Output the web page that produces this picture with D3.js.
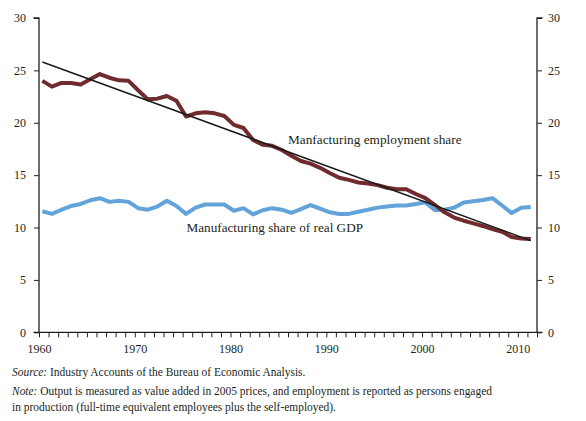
<!DOCTYPE html>
<html>
<head>
<meta charset="utf-8">
<script src="https://cdn.jsdelivr.net/npm/d3@7/dist/d3.min.js"></script>
<style>
  html, body { margin: 0; padding: 0; background: #fff; }
  svg { display: block; }
  text { font-family: "Liberation Serif", "Times New Roman", serif; fill: #231f20; }
</style>
</head>
<body>
<svg id="chart" width="586" height="421"></svg>
<script>
// ---- data ----
const years = [1960,1961,1962,1963,1964,1965,1966,1967,1968,1969,
               1970,1971,1972,1973,1974,1975,1976,1977,1978,1979,
               1980,1981,1982,1983,1984,1985,1986,1987,1988,1989,
               1990,1991,1992,1993,1994,1995,1996,1997,1998,1999,
               2000,2001,2002,2003,2004,2005,2006,2007,2008,2009,
               2010,2011];
const employmentShare = [24.0,23.45,23.8,23.8,23.65,24.15,24.65,24.3,24.05,24.0,
                         23.1,22.25,22.3,22.55,22.1,20.6,20.9,21.0,20.9,20.65,
                         19.8,19.5,18.35,17.9,17.8,17.4,16.85,16.35,16.1,15.7,
                         15.2,14.75,14.55,14.3,14.2,14.05,13.8,13.65,13.65,13.2,
                         12.8,12.15,11.45,10.95,10.65,10.4,10.15,9.85,9.6,9.1,
                         8.95,8.9];
const gdpShare = [11.55,11.3,11.7,12.05,12.25,12.6,12.8,12.45,12.55,12.45,
                  11.85,11.7,12.0,12.55,12.05,11.3,11.9,12.2,12.2,12.2,
                  11.6,11.85,11.25,11.65,11.85,11.7,11.4,11.75,12.15,11.8,
                  11.45,11.3,11.3,11.5,11.7,11.9,12.0,12.1,12.1,12.25,
                  12.4,11.65,11.7,11.9,12.4,12.5,12.62,12.8,12.1,11.38,
                  11.88,11.95];
const trendYears = [1960, 2011];
const trendValues = [25.8, 8.75];
const xTicks = [1960,1970,1980,1990,2000,2010];
const yTicks = [0,5,10,15,20,25,30];
const labelEmployment = "Manfacturing employment share";
const labelGdp = "Manufacturing share of real GDP";

// ---- layout ----
const svg = d3.select("#chart");
const mLeft = 39, mRight = 537, mTop = 18, mBottom = 332.3;
const yearOffset = 0.35;

const x = d3.scaleLinear().domain([1960, 2012]).range([mLeft, mRight]);
const y = d3.scaleLinear().domain([0, 30]).range([mBottom, mTop]);

const axisColor = "#231f20";

// Axes
const gL = svg.append("g").attr("transform", `translate(${mLeft},0)`)
  .call(d3.axisLeft(y).tickValues(yTicks).tickSize(5).tickPadding(8).tickFormat(d3.format("d")));
const gR = svg.append("g").attr("transform", `translate(${mRight},0)`)
  .call(d3.axisRight(y).tickValues(yTicks).tickSize(5).tickPadding(6).tickFormat(d3.format("d")));
const minorYears = d3.range(1960, 2013);
const gB = svg.append("g").attr("transform", `translate(0,${mBottom})`)
  .call(d3.axisBottom(x).tickValues(minorYears).tickSize(5).tickFormat(""));
const gBL = svg.append("g").attr("transform", `translate(0,${mBottom})`)
  .call(d3.axisBottom(x).tickValues(xTicks).tickSize(0).tickPadding(12).tickFormat(d3.format("d")));
gBL.select(".domain").remove();

[gL, gR, gB, gBL].forEach(g => {
  g.attr("font-family", null);
  g.selectAll(".domain").attr("stroke", axisColor).attr("stroke-width", 1.3);
  g.selectAll(".tick line").attr("stroke", axisColor).attr("stroke-width", 1);
  g.selectAll("text").style("font-family", '"Liberation Serif", serif')
    .style("font-size", "12px").attr("fill", "#231f20");
});
gL.select(".domain").attr("d", `M-5.5,${mTop}H0V${mBottom}`);
gR.select(".domain").attr("d", `M5.5,${mTop}H0V${mBottom}`);
gB.select(".domain").attr("d", `M${mLeft-5.5},0H${mRight+5.5}`);

// Lines
const line = d3.line()
  .x(d => x(d[0] + yearOffset))
  .y(d => y(d[1]))
  .curve(d3.curveLinear);

svg.append("path")
  .datum(years.map((yr, i) => [yr, gdpShare[i]]))
  .attr("d", line)
  .attr("fill", "none")
  .attr("stroke", "#62a3da")
  .attr("stroke-width", 4)
  .attr("stroke-linejoin", "round");

svg.append("path")
  .datum(years.map((yr, i) => [yr, employmentShare[i]]))
  .attr("d", line)
  .attr("fill", "none")
  .attr("stroke", "#6f2b2e")
  .attr("stroke-width", 4)
  .attr("stroke-linejoin", "round");

svg.append("path")
  .datum(trendYears.map((yr, i) => [yr, trendValues[i]]))
  .attr("d", line)
  .attr("fill", "none")
  .attr("stroke", "#1a1a1a")
  .attr("stroke-width", 1.5);

// Series labels
svg.append("text").attr("x", x(1986.0)).attr("y", y(17.95))
  .style("font-size", "13.3px").text(labelEmployment);
svg.append("text").attr("x", x(1975.4)).attr("y", y(10.05) + 4.5)
  .style("font-size", "13.2px").text(labelGdp);

// Footer
const foot = svg.append("g").style("font-size", "11.45px");
const t1 = foot.append("text").attr("x", 12).attr("y", 375.5);
t1.append("tspan").style("font-style", "italic").text("Source:");
t1.append("tspan").text(" Industry Accounts of the Bureau of Economic Analysis.");
const t2 = foot.append("text").attr("x", 12).attr("y", 394.5);
t2.append("tspan").style("font-style", "italic").text("Note:");
t2.append("tspan").text(" Output is measured as value added in 2005 prices, and employment is reported as persons engaged");
foot.append("text").attr("x", 12).attr("y", 411)
  .text("in production (full-time equivalent employees plus the self-employed).");
</script>
</body>
</html>
